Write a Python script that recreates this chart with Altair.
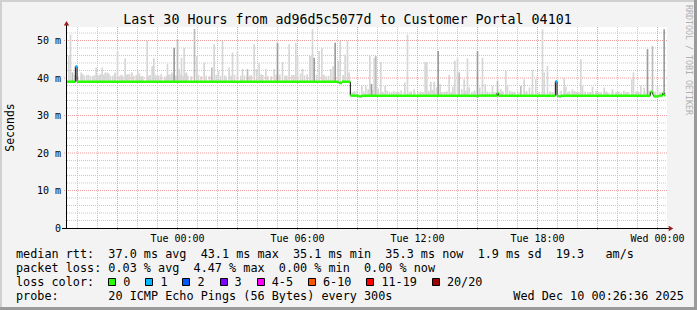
import altair as alt
import pandas as pd

# ---------------- data ----------------
START = "2025-12-08 18:30:00"          # left edge of the plot (UTC)
SPAN_MIN = 1800                        # 30 hours
STEP_MIN = 5                           # 300 s step
DATA_END_MIN = 1795

# smoke spikes: start minute after START, top of smoke (ms), shade 0 light / 1 mid / 2 dark
spike_min = [3, 8, 14, 20, 40, 50, 57, 75, 85, 95, 103, 112, 118, 135, 142, 149, 165, 172, 180, 192,
             210, 225, 238, 247, 253, 258, 268, 290, 299, 306, 312, 319, 329, 334, 341, 349, 356,
             360, 380, 387, 400, 409, 425, 432, 439, 452, 464, 475, 484, 494, 509, 519, 524, 539, 550,
             559, 566, 574, 580, 594, 610, 619, 629, 636, 644, 652, 664, 672, 684, 689, 698, 704, 726,
             718, 729, 734, 739, 746, 754, 762, 775, 789, 796, 802, 811, 817, 832, 839, 844,
             860, 882, 894, 901, 906, 911, 919, 924, 931, 939, 952, 965, 985, 1011, 1019, 1039, 1050, 1072,
             1077, 1089, 1099, 1106, 1111, 1117, 1130, 1144, 1155, 1161, 1169, 1174, 1182, 1189, 1199, 1204,
             1229, 1236, 1244, 1252, 1265, 1274, 1289, 1299, 1314, 1319, 1340, 1359, 1369, 1385, 1394, 1404,
             1424, 1429, 1439,
             1489, 1494, 1505, 1514, 1525, 1539, 1544, 1560, 1574, 1600, 1609, 1620, 1634, 1660, 1680,
             1692, 1697, 1719, 1729, 1739, 1754, 1769, 1789]
spike_top = [45.9, 51.6, 41.5, 40.8, 41.5, 40.6, 40.8, 40.6, 42.8, 40.9, 42.8, 41.5, 41.5, 40.6, 41.5, 47.2, 40.6, 45.2, 41.0, 41.5,
             41.9, 40.5, 49.9, 40.8, 43.2, 45.3, 40.5, 40.4, 43.7, 41.0, 41.5, 48.1, 50.3, 42.4, 45.4, 48.1, 41.5,
             40.6, 53.1, 45.9, 40.5, 44.1, 40.6, 42.8, 49.0, 41.9, 49.9, 40.4, 42.8, 46.8, 47.2, 40.6, 42.4, 42.4, 40.8,
             49.0, 42.4, 44.1, 41.0, 42.4, 40.5, 42.4, 49.4, 41.0, 44.3, 40.7, 49.0, 40.8, 49.4, 45.9, 41.2, 42.5, 45.9,
             41.0, 45.9, 53.0, 45.4, 40.8, 47.2, 48.1, 40.5, 42.4, 43.2, 49.4, 44.6, 49.9, 46.3, 49.9, 41.5,
             36.5, 38.1, 37.9, 37.0, 45.9, 38.4, 45.4, 45.9, 37.2, 44.3, 37.9, 36.3, 36.2, 38.8, 51.6, 37.0, 36.3, 44.3,
             44.3, 39.0, 39.0, 37.5, 47.2, 38.4, 36.3, 40.8, 37.7, 44.6, 45.2, 41.5, 37.0, 39.7, 45.2, 37.5,
             47.2, 37.5, 45.4, 38.4, 36.3, 37.9, 39.3, 37.0, 41.9, 38.1, 36.3, 37.9, 39.7, 37.5, 42.2, 39.7,
             53.0, 41.5, 43.2,
             40.1, 37.7, 36.5, 37.0, 36.3, 45.0, 37.9, 36.2, 37.7, 36.3, 37.5, 36.0, 37.0, 36.0, 36.2,
             39.7, 41.5, 38.1, 37.5, 47.7, 48.5, 37.9, 53.0]
spike_shade = [0, 0, 1, 0, 0, 0, 0, 0, 0, 0, 0, 0, 0, 0, 0, 0, 0, 0, 0, 0,
               0, 0, 0, 0, 0, 0, 0, 0, 0, 0, 0, 2, 1, 0, 0, 0, 0,
               0, 1, 0, 0, 0, 0, 1, 0, 0, 0, 0, 0, 0, 0, 0, 0, 1, 0,
               0, 0, 0, 0, 0, 0, 0, 2, 0, 0, 0, 0, 0, 0, 0, 0, 0, 0,
               0, 0, 0, 2, 0, 0, 0, 0, 0, 0, 2, 0, 0, 0, 0, 0,
               0, 0, 0, 0, 0, 2, 0, 1, 0, 0, 0, 0, 0, 0, 0, 0, 0, 0,
               0, 0, 0, 0, 2, 0, 0, 0, 0, 0, 0, 1, 0, 0, 0, 0,
               2, 0, 0, 0, 0, 0, 1, 0, 0, 0, 0, 1, 0, 0, 0, 0,
               0, 0, 0,
               0, 0, 0, 0, 0, 0, 0, 0, 0, 0, 0, 0, 0, 0, 0,
               0, 0, 0, 0, 2, 1, 0, 2]

# low smoke just above the median (start minute, top in ms)
floor_min = [30, 45, 62, 68, 80, 90, 98, 108, 123, 128, 140, 155, 160, 177, 185, 197, 205, 215, 220, 243,
             263, 273, 280, 295, 302, 317, 324, 339, 346, 353, 370, 392, 415, 445, 458, 470, 490, 500, 530,
             545, 585, 600, 625, 657, 678, 710, 768, 782, 826,
             855, 868, 888, 915, 945, 958, 972, 978, 992, 1000, 1025, 1030, 1058, 1065, 1083, 1094, 1122,
             1137, 1150, 1194, 1212, 1220, 1258, 1280, 1305, 1326, 1333, 1350, 1376, 1414, 1447, 1455, 1480,
             1500, 1520, 1532, 1552, 1567, 1585, 1592, 1615, 1645, 1652, 1668, 1675, 1705, 1712, 1745, 1762, 1778]
floor_top = [40.4, 41.0, 40.8, 40.5, 40.7, 40.6, 41.0, 40.9, 41.2, 40.6, 40.8, 40.5, 40.9, 40.8, 41.1, 40.6, 40.8, 41.2, 40.5, 40.6,
             40.9, 40.7, 41.0, 40.5, 40.8, 41.1, 40.7, 41.0, 40.6, 41.2, 40.5, 40.8, 40.6, 40.9, 40.5, 40.7, 40.6, 40.9, 40.7,
             40.6, 40.8, 40.5, 40.9, 40.6, 40.8, 40.7, 40.9, 40.6, 40.8,
             36.2, 36.6, 36.4, 36.8, 36.3, 36.6, 36.2, 36.5, 36.3, 36.7, 36.2, 36.5, 36.4, 36.2, 36.6, 36.8, 36.3,
             36.5, 36.2, 36.6, 36.3, 36.7, 36.4, 36.2, 36.5, 36.6, 36.3, 36.2, 36.5, 36.3, 36.4, 36.2, 36.6,
             36.3, 36.5, 36.2, 36.4, 36.3, 36.6, 36.2, 36.5, 36.3, 36.4, 36.6, 36.2, 36.5, 36.3, 36.6, 36.4, 36.2]

# median rtt: change points (minute), value (ms), loss bucket index
med_min = [0, 25, 30, 815, 825, 850, 875, 885, 1229, 1234, 1290, 1295, 1465, 1470, 1475, 1482, 1750, 1757, 1760, 1775, 1787, 1791]
med_ms = [39.0, 43.1, 39.0, 38.7, 39.0, 35.3, 35.1, 35.3, 35.1, 35.3, 36.0, 35.3, 39.1, 35.3, 35.1, 35.3, 36.3, 35.6, 35.1, 35.3, 36.0, 35.4]
med_loss = [0, 1, 0, 0, 0, 0, 0, 0, 0, 0, 0, 0, 1, 0, 0, 0, 0, 0, 0, 0, 0, 0]

loss_labels = ["0", "1", "2", "3", "4-5", "6-10", "11-19", "20/20"]
loss_colors = ["#26ff00", "#00b8ff", "#0059ff", "#7e00ff", "#ff00ff", "#ff5500", "#ff0000", "#a00000"]
shade_colors = ["#d6d6d6", "#bcbcbc", "#9c9c9c"]

x_label_times = ["2025-12-09 00:00", "2025-12-09 06:00", "2025-12-09 12:00", "2025-12-09 18:00", "2025-12-10 00:00"]
y_label_values = [0, 10, 20, 30, 40, 50]
Y_MAX = 53.6

title_text = "Last 30 Hours from ad96d5c5077d to Customer Portal 04101"
legend_row1 = "median rtt:  37.0 ms avg  43.1 ms max  35.1 ms min  35.3 ms now  1.9 ms sd  19.3   am/s"
legend_row2 = "packet loss: 0.03 % avg  4.47 % max  0.00 % min  0.00 % now"
legend_row3 = "loss color:"
legend_row4 = "probe:       20 ICMP Echo Pings (56 Bytes) every 300s"
stamp_text = "Wed Dec 10 00:26:36 2025"
watermark = "RRDTOOL / TOBI OETIKER"

# ---------------- helpers ----------------
start_ts = pd.Timestamp(START, tz="UTC")


def to_ms(minutes):
    return int((start_ts + pd.Timedelta(minutes=minutes)).value // 10**6)


def ts_ms(s):
    return int(pd.Timestamp(s, tz="UTC").value // 10**6)


def median_at(m):
    v = med_ms[0]
    for mm, ms in zip(med_min, med_ms):
        if mm <= m:
            v = ms
    return v


MONO = "DejaVu Sans Mono"
W, H = 600, 201
OX, OY = 67, 27
CW = 7.1  # legend char width

one = pd.DataFrame({"k": [0]})

xs = alt.Scale(type="utc", domain=[to_ms(0), to_ms(SPAN_MIN)])
ys = alt.Scale(domain=[0, Y_MAX], nice=False, zero=False)

x_axis = alt.Axis(values=[ts_ms(t) for t in x_label_times],
                  labelExpr="utcFormat(datum.value, '%a %H:%M')",
                  grid=False, ticks=False, tickSize=0, domain=False, title=None,
                  labelFont=MONO, labelFontSize=10, labelColor="#000",
                  labelPadding=5, labelBaseline="top", labelFlush=False, labelOverlap=False)
y_axis = alt.Axis(values=y_label_values,
                  labelExpr="datum.value == 0 ? '0' : datum.value + ' m'",
                  grid=False, ticks=False, tickSize=0, domain=False, title=None,
                  labelFont=MONO, labelFontSize=10, labelColor="#000",
                  labelPadding=6.5, labelBaseline="middle", labelAlign="right", labelOverlap=False)


def txt(s, x, y, size=11.8, align="left", baseline="alphabetic", color="#000", angle=0):
    return alt.Chart(one).mark_text(text=s.replace(" ", "\u00a0"), font=MONO, fontSize=size,
                                    align=align, baseline=baseline, color=color, angle=angle
                                    ).encode(x=alt.value(x - OX), y=alt.value(y - OY))


def box(x1, y1, x2, y2, fill, stroke=None):
    kw = dict(fill=fill, opacity=1)
    if stroke:
        kw.update(stroke=stroke, strokeWidth=1)
    return alt.Chart(one).mark_rect(**kw).encode(
        x=alt.value(x1 - OX), x2=alt.value(x2 - OX), y=alt.value(y1 - OY), y2=alt.value(y2 - OY))


# ---------------- frames ----------------
floor_df = pd.DataFrame({
    "t0": [to_ms(m) for m in floor_min],
    "t1": [to_ms(m + STEP_MIN) for m in floor_min],
    "base": [median_at(m) - 0.3 for m in floor_min],
    "top": floor_top,
})
smoke_df = pd.DataFrame({
    "t0": [to_ms(m) for m in spike_min],
    "t1": [to_ms(m + STEP_MIN) for m in spike_min],
    "base": [median_at(m) - 0.3 for m in spike_min],
    "top": spike_top,
    "col": [shade_colors[s] for s in spike_shade],
})

seg_end = med_min[1:] + [DATA_END_MIN]
seg_df = pd.DataFrame({
    "t0": [to_ms(m) for m in med_min],
    "t1": [to_ms(m) for m in seg_end],
    "ms": med_ms,
    "col": [loss_colors[i] for i in med_loss],
})
conn_df = pd.DataFrame({
    "t": [to_ms(med_min[i]) for i in range(1, len(med_min))],
    "a": [med_ms[i - 1] for i in range(1, len(med_min))],
    "b": [med_ms[i] for i in range(1, len(med_min))],
})

minor_v = pd.DataFrame({"t": [int(t.value // 10**6) for t in pd.date_range("2025-12-08 19:00", "2025-12-10 00:00", freq="1h", tz="UTC")]})
major_v = pd.DataFrame({"t": [int(t.value // 10**6) for t in pd.date_range("2025-12-08 21:00", "2025-12-10 00:00", freq="3h", tz="UTC")]})
minor_h = pd.DataFrame({"v": [v for v in range(2, 54, 2) if v % 10]})
major_h = pd.DataFrame({"v": [10, 20, 30, 40, 50]})

MINOR = "#c9c9c9"
MAJOR = "#eb9c9c"

layers = []
# frame / background strips
layers += [box(0, 0, 697, 2, "#d0d0d0"), box(0, 0, 2, 310, "#d0d0d0"),
           box(694, 0, 697, 310, "#9a9a9a"), box(0, 307, 697, 310, "#9a9a9a")]

layers.append(alt.Chart(minor_v).mark_rule(color=MINOR, strokeDash=[1, 1], strokeWidth=1, xOffset=0.5).encode(
    x=alt.X("t:T", scale=xs, axis=x_axis), y=alt.value(0), y2=alt.value(H)))
layers.append(alt.Chart(minor_h).mark_rule(color=MINOR, strokeDash=[1, 1], strokeWidth=1).encode(
    y=alt.Y("v:Q", scale=ys, axis=y_axis), x=alt.value(0), x2=alt.value(W)))
layers.append(alt.Chart(major_v).mark_rule(color=MAJOR, strokeDash=[1, 1], strokeWidth=1, xOffset=0.5).encode(
    x=alt.X("t:T", scale=xs, axis=x_axis), y=alt.value(0), y2=alt.value(H + 3)))
layers.append(alt.Chart(major_h).mark_rule(color=MAJOR, strokeDash=[1, 1], strokeWidth=1).encode(
    y=alt.Y("v:Q", scale=ys, axis=y_axis), x=alt.value(-3), x2=alt.value(W)))

layers.append(alt.Chart(floor_df).mark_rect(opacity=1, color=shade_colors[0]).encode(
    x=alt.X("t0:T", scale=xs, axis=x_axis), x2="t1:T",
    y=alt.Y("base:Q", scale=ys, axis=y_axis), y2="top:Q"))
layers.append(alt.Chart(smoke_df).mark_rect(opacity=1).encode(
    x=alt.X("t0:T", scale=xs, axis=x_axis), x2="t1:T",
    y=alt.Y("base:Q", scale=ys, axis=y_axis), y2="top:Q",
    color=alt.Color("col:N", scale=None, legend=None)))

layers.append(alt.Chart(conn_df).mark_rule(color="#000", strokeWidth=1).encode(
    x=alt.X("t:T", scale=xs, axis=x_axis), y=alt.Y("a:Q", scale=ys, axis=y_axis), y2="b:Q"))
layers.append(alt.Chart(seg_df).mark_rule(strokeWidth=2.5, strokeCap="butt").encode(
    x=alt.X("t0:T", scale=xs, axis=x_axis), x2="t1:T",
    y=alt.Y("ms:Q", scale=ys, axis=y_axis),
    color=alt.Color("col:N", scale=None, legend=None)))

# axis lines and arrows
layers.append(alt.Chart(one).mark_rule(color="#000", strokeWidth=1).encode(
    x=alt.value(-0.5), y=alt.value(-2), y2=alt.value(H + 1)))
layers.append(alt.Chart(one).mark_rule(color="#000", strokeWidth=1).encode(
    x=alt.value(-5), x2=alt.value(W + 3), y=alt.value(H + 0.5)))
layers.append(alt.Chart(one).mark_point(shape="triangle-up", filled=True, size=28, color="#9b1c1c", opacity=1).encode(
    x=alt.value(-0.5), y=alt.value(-3.7)))
layers.append(alt.Chart(one).mark_point(shape="triangle-right", filled=True, size=28, color="#9b1c1c", opacity=1).encode(
    x=alt.value(W + 4), y=alt.value(H + 0.5)))

# texts
layers.append(txt(title_text, 347.5, 24, size=13.3, align="center"))
layers.append(txt("Seconds", 10.5, 127.5, size=11.5, align="center", baseline="middle", angle=270))
layers.append(txt(watermark, 687.5, 60, size=8.3, align="center", baseline="middle", color="#b0b0b0", angle=90))
layers.append(txt(legend_row1, 16, 258))
layers.append(txt(legend_row2, 16, 272))
layers.append(txt(legend_row3, 16, 286))
layers.append(txt(legend_row4, 16, 300))
layers.append(txt(stamp_text, 513.3, 300))

bx = 16 + 13 * CW
for lab, col in zip(loss_labels, loss_colors):
    b = round(bx)
    layers.append(box(b + 0.5, 278.5, b + 7.5, 285.5, col, stroke="#000"))
    layers.append(txt(lab, bx + 15, 286))
    bx = bx + 15 + len(lab) * CW + 15

chart = alt.layer(*layers).resolve_scale(color="independent").properties(
    width=W, height=H,
    autosize=alt.AutoSizeParams(type="none"),
    padding={"left": OX, "top": OY, "right": 697 - OX - W, "bottom": 310 - OY - H},
    background="#f3f3f3",
).configure_view(stroke=None, fill="white")

chart.save("out.html", embed_options={"renderer": "svg", "actions": False})
